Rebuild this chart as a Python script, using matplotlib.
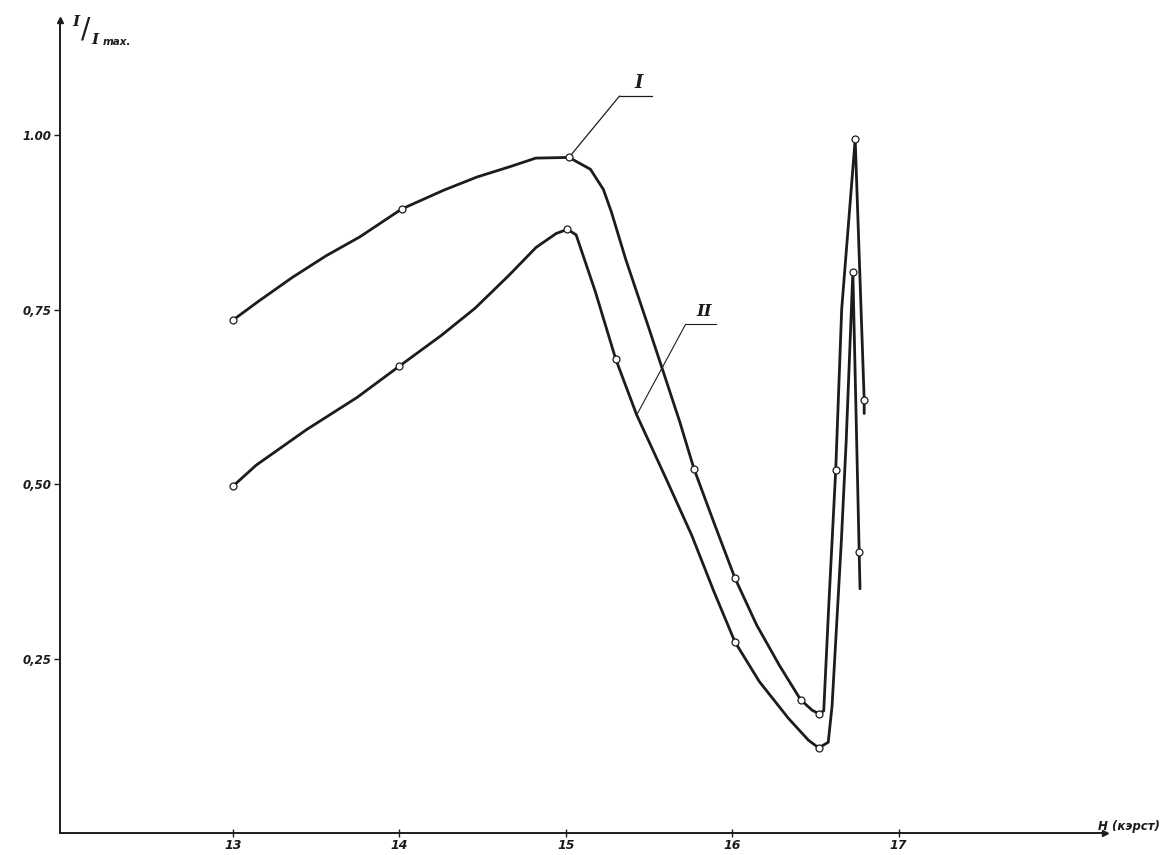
import numpy as np
import matplotlib.pyplot as plt

# measured points, H in kOe vs relative intensity I/Imax
h_pts_1 = [13.0, 14.013, 15.019, 15.770, 16.017, 16.411, 16.520, 16.622, 16.739, 16.793]
i_pts_1 = [0.735, 0.894, 0.968, 0.522, 0.365, 0.191, 0.171, 0.520, 0.994, 0.621]
h_pts_2 = [13.0, 14.0, 15.01, 15.30, 16.016, 16.52, 16.725, 16.763]
i_pts_2 = [0.497, 0.669, 0.865, 0.679, 0.274, 0.122, 0.804, 0.402]

# the hand drawn strokes
h_line_1 = [13.0, 13.154, 13.356, 13.559, 13.761, 14.013, 14.266, 14.467, 14.668, 14.819,
            15.019, 15.148, 15.226, 15.275, 15.360, 15.494, 15.580, 15.685, 15.770, 15.896,
            16.017, 16.147, 16.284, 16.411, 16.480, 16.520, 16.550, 16.580, 16.622, 16.658,
            16.739, 16.793, 16.793]
i_line_1 = [0.735, 0.762, 0.796, 0.827, 0.854, 0.894, 0.921, 0.940, 0.955, 0.967,
            0.968, 0.951, 0.922, 0.889, 0.822, 0.727, 0.665, 0.589, 0.522, 0.441,
            0.365, 0.298, 0.240, 0.191, 0.176, 0.171, 0.175, 0.325, 0.520, 0.751,
            0.994, 0.621, 0.601]
h_line_2 = [13.0, 13.139, 13.442, 13.745, 14.0, 14.252, 14.455, 14.658, 14.821, 14.942,
            15.01, 15.062, 15.177, 15.30, 15.426, 15.600, 15.756, 15.890, 16.016, 16.163,
            16.339, 16.458, 16.52, 16.577, 16.600, 16.656, 16.685, 16.725, 16.763, 16.768]
i_line_2 = [0.497, 0.527, 0.578, 0.624, 0.669, 0.713, 0.752, 0.799, 0.839, 0.859,
            0.865, 0.857, 0.776, 0.679, 0.599, 0.509, 0.427, 0.346, 0.274, 0.217,
            0.164, 0.133, 0.122, 0.130, 0.182, 0.419, 0.562, 0.804, 0.402, 0.350]

x_ticks = [13, 14, 15, 16, 17]
y_ticks = [0.25, 0.50, 0.75, 1.00]
y_tick_labels = ["0,25", "0,50", "0,75", "1.00"]

ink = "#1c1c1c"
hand = dict(style="italic", weight="bold", color=ink)

fig = plt.figure(figsize=(11.71, 8.55), dpi=100)
ax = fig.add_axes([0.0512, 0.0257, 0.8924, 0.951])

ax.plot(h_line_1, i_line_1, color=ink, lw=2.0, solid_joinstyle="round", solid_capstyle="round")
ax.plot(h_line_2, i_line_2, color=ink, lw=2.0, solid_joinstyle="round", solid_capstyle="round")
ax.plot(h_pts_1, i_pts_1, "o", ms=5, mfc="white", mec=ink, mew=0.9)
ax.plot(h_pts_2, i_pts_2, "o", ms=5, mfc="white", mec=ink, mew=0.9)

ax.set_xlim(11.96, 18.24)
ax.set_ylim(0, 1.165)

for s in ["top", "right"]:
    ax.spines[s].set_visible(False)
for s in ["left", "bottom"]:
    ax.spines[s].set_linewidth(1.4)
    ax.spines[s].set_color(ink)

ax.set_xticks(x_ticks)
ax.set_xticklabels([str(t) for t in x_ticks], fontsize=9, **hand)
ax.set_yticks(y_ticks)
ax.set_yticklabels(y_tick_labels, fontsize=8.5, **hand)
ax.tick_params(axis="x", direction="inout", length=6, width=1, pad=1, colors=ink)
ax.tick_params(axis="y", direction="out", length=4, width=1, pad=2, colors=ink)

# axis end marks
ax.plot(1, 0, ">", color=ink, ms=5, transform=ax.transAxes, clip_on=False)
ax.plot(0, 1, "^", color=ink, ms=5, transform=ax.transAxes, clip_on=False)

# axis titles: I / I max.
fig.text(72 / 1171, 1 - 22 / 855, "I", fontsize=11, family="DejaVu Serif", ha="left", va="center", **hand)
fig.text(81 / 1171, 1 - 30 / 855, "/", fontsize=20, ha="left", va="center", color=ink)
fig.text(91 / 1171, 1 - 40 / 855, "I", fontsize=11, family="DejaVu Serif", ha="left", va="center", **hand)
fig.text(103 / 1171, 1 - 42 / 855, "max.", fontsize=7.5, ha="left", va="center", **hand)
fig.text(1098 / 1171, 1 - 826 / 855, "H (кэрст)", fontsize=8.5, ha="left", va="center", **hand)

# curve labels with leader lines
ax.annotate("", xy=(h_pts_1[2], i_pts_1[2]), xytext=(15.323, 1.056),
            arrowprops=dict(arrowstyle="-", lw=0.9, color=ink, shrinkA=0, shrinkB=3))
ax.plot([15.323, 15.515], [1.056, 1.056], color=ink, lw=0.9)
ax.text(15.44, 1.062, "I", fontsize=13, family="DejaVu Serif", ha="center", va="bottom", **hand)

ax.annotate("", xy=(h_line_2[14], i_line_2[14]), xytext=(15.72, 0.729),
            arrowprops=dict(arrowstyle="-", lw=0.8, color=ink, shrinkA=0, shrinkB=0))
ax.plot([15.72, 15.90], [0.729, 0.729], color=ink, lw=0.8)
ax.text(15.83, 0.735, "II", fontsize=12, family="DejaVu Serif", ha="center", va="bottom", **hand)

fig.savefig("out.png", dpi=100, facecolor="white")
